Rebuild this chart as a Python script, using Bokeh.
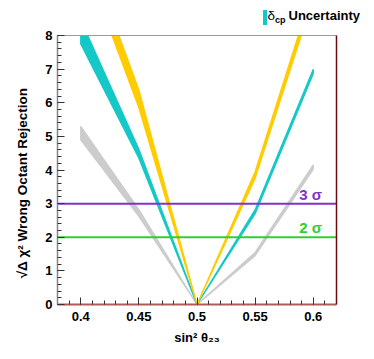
from bokeh.plotting import figure
from bokeh.layouts import column
from bokeh.models import (LinearAxis, SingleIntervalTicker, CustomJSTickFormatter,
                          FixedTicker, Label, Range1d, Div)
from bokeh.embed import file_html
from bokeh.resources import INLINE

# ---- data ----
sin2 = [0.40, 0.45, 0.50, 0.55, 0.60]

gray_lo = [4.90, 2.62, 0.0, 1.45, 4.02]
gray_hi = [5.30, 2.82, 0.0, 1.55, 4.15]

cyan_lo = [7.75, 4.35, 0.0, 2.70, 6.86]
cyan_hi = [8.46, 4.62, 0.0, 2.82, 7.00]

gold_lo = [10.50, 5.85, 0.0, 3.75, 9.10]
gold_hi = [11.10, 6.38, 0.0, 3.95, 9.40]

sigma_levels = [3, 2]
sigma_names = ["3 \u03c3", "2 \u03c3"]
sigma_colors = ["#8033cc", "#33cc33"]

FONT = "Liberation Sans"
CYAN = "#14c8c8"

# ---- legend strip (HTML text) ----
leg_html = (
    '<div style="position:relative;width:366px;height:27px;'
    "font-family:'Liberation Sans',sans-serif;color:black;\">"
    f'<div style="position:absolute;left:262.5px;top:10px;width:4px;height:15px;background:{CYAN};"></div>'
    '<div style="position:absolute;left:267.5px;top:8.5px;font-size:13.5px;line-height:14px;">\u03b4</div>'
    '<div style="position:absolute;left:275px;top:15.5px;font-size:9px;line-height:9px;font-weight:bold;">cp</div>'
    '<div style="position:absolute;left:288.5px;top:8.5px;font-size:13px;line-height:13px;font-weight:bold;white-space:nowrap;">Uncertainty</div>'
    '</div>'
)
leg = Div(text=leg_html, width=366, height=27, margin=0)

# ---- main plot ----
p = figure(width=366, height=324, output_backend="svg", toolbar_location=None,
           x_range=Range1d(0.38, 0.62), y_range=Range1d(0, 8),
           min_border_left=57, min_border_right=30, min_border_top=8,
           min_border_bottom=47)
p.outline_line_color = None
p.xgrid.visible = False
p.ygrid.visible = False
p.background_fill_color = "white"

def band(lo, hi, color):
    xs = list(sin2) + list(reversed(sin2))
    ys = list(lo) + list(reversed(hi))
    p.patch(xs, ys, fill_color=color, line_color=color, line_width=1.3)

band(gray_lo, gray_hi, "#cccccc")
band(cyan_lo, cyan_hi, CYAN)
band(gold_lo, gold_hi, "#ffcc00")

for lvl, c in zip(sigma_levels, sigma_colors):
    p.line([0.38, 0.62], [lvl, lvl], line_color=c, line_width=2)

xa = p.xaxis[0]
xa.ticker = SingleIntervalTicker(interval=0.05, num_minor_ticks=5)
xa.formatter = CustomJSTickFormatter(code="return String(Math.round(tick*100)/100)")
ya = p.yaxis[0]
ya.ticker = SingleIntervalTicker(interval=1, num_minor_ticks=5)

for ax in (xa, ya):
    ax.major_tick_in = 7
    ax.major_tick_out = 0
    ax.minor_tick_in = 4
    ax.minor_tick_out = 0
    ax.major_tick_line_color = "#333333"
    ax.minor_tick_line_color = "#333333"
    ax.major_label_text_font = FONT
    ax.major_label_text_font_style = "bold"
    ax.major_label_text_font_size = "13px"
    ax.major_label_text_color = "black"
    ax.axis_label_text_font = FONT
    ax.axis_label_text_font_style = "bold"
    ax.axis_label_text_color = "black"

xa.axis_line_color = "#b05a5a"
xa.axis_line_width = 2
xa.major_label_standoff = 7
xa.axis_label = "sin\u00b2 \u03b8\u2082\u2083"
xa.axis_label_text_font_size = "13px"
xa.axis_label_standoff = 6

ya.axis_line_color = "#888888"
ya.axis_line_width = 1.5
ya.major_label_standoff = 5
ya.axis_label = "\u221a\u0394 \u03c7\u00b2 Wrong Octant Rejection" + "\u00a0" * 7
ya.axis_label_text_font_size = "13.5px"
ya.axis_label_standoff = 12

top = LinearAxis(ticker=FixedTicker(ticks=[]), axis_line_color="#999999",
                 axis_line_width=1, major_tick_out=0, major_tick_in=0,
                 minor_tick_out=0, minor_tick_in=0, major_label_standoff=0,
                 axis_label_standoff=0)
right = LinearAxis(ticker=FixedTicker(ticks=[]), axis_line_color="#6b0a0a",
                   axis_line_width=1.5)
p.add_layout(top, "above")
p.add_layout(right, "right")

for lvl, name, c in zip(sigma_levels, sigma_names, sigma_colors):
    p.add_layout(Label(x=0.588, y=lvl + 0.28, text=name, text_color=c,
                       text_font=FONT, text_font_style="bold", text_font_size="15px",
                       text_baseline="middle"))

layout = column(leg, p, spacing=0)
open("out.html", "w").write(file_html(layout, INLINE))
